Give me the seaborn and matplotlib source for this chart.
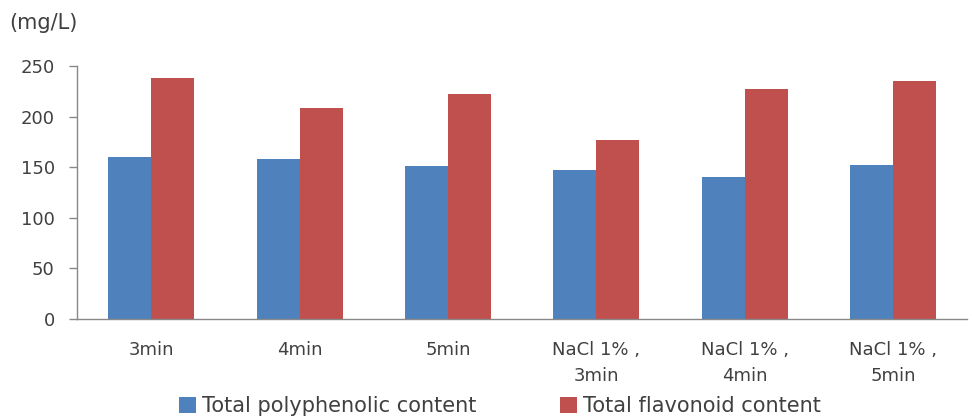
import matplotlib
matplotlib.use("Agg")
import matplotlib.pyplot as plt
import seaborn as sns
import pandas as pd
from matplotlib.patches import Patch

categories = ["3min", "4min", "5min", "NaCl 1% ,\n3min", "NaCl 1% ,\n4min", "NaCl 1% ,\n5min"]
series_names = ["Total polyphenolic content", "Total flavonoid content"]
polyphenolic = [160, 158, 151, 147, 140, 152]
flavonoid = [238, 208, 222, 177, 227, 235]
yticks = [0, 50, 100, 150, 200, 250]
colors = ["#4F81BD", "#C0504D"]

df = pd.DataFrame({
    "category": categories * 2,
    "series": [series_names[0]] * len(categories) + [series_names[1]] * len(categories),
    "value": polyphenolic + flavonoid,
})

sns.set_theme(style="white")
plt.rcParams['font.family'] = ['DejaVu Sans']

fig = plt.figure(figsize=(9.73, 4.19), dpi=100)
ax = fig.add_axes([0.0791, 0.2387, 0.915, 0.6038])

sns.barplot(data=df, x="category", y="value", hue="series", order=categories,
            hue_order=series_names, palette=colors, width=0.58, gap=0,
            saturation=1, linewidth=0, ax=ax, legend=False)

ax.set_ylim(0, 250)
ax.set_xlim(-0.5, len(categories) - 0.5)
ax.set_yticks(yticks)
ax.set_yticklabels([str(t) for t in yticks], fontsize=13, color="#404040")
ax.set_xticks(range(len(categories)))
ax.set_xticklabels(categories, fontsize=13, color="#404040", linespacing=1.55)
ax.set_xticks([i - 0.5 for i in range(len(categories) + 1)], minor=True)
ax.tick_params(axis="x", which="major", length=0, pad=16)
ax.tick_params(axis="x", which="minor", length=4, width=1, color="#888888", direction="out")
ax.tick_params(axis="y", length=6, width=1, color="#888888", direction="out", pad=10, left=True)
ax.set_xlabel("")
ax.set_ylabel("")
for s in ["top", "right"]:
    ax.spines[s].set_visible(False)
for s in ["left", "bottom"]:
    ax.spines[s].set_color("#888888")
    ax.spines[s].set_linewidth(1)

fig.text(0.01, 0.945, "(mg/L)", fontsize=15, color="#404040", ha="left", va="center")

handles = [Patch(facecolor=c, edgecolor="none") for c in colors]
fig.legend(handles, series_names, loc="center", bbox_to_anchor=(0.514, 0.03), ncol=2,
           frameon=False, fontsize=15, columnspacing=4.0, handlelength=0.8, handleheight=0.8,
           handletextpad=0.3, labelcolor="#404040")

fig.savefig("out.png", dpi=100)
